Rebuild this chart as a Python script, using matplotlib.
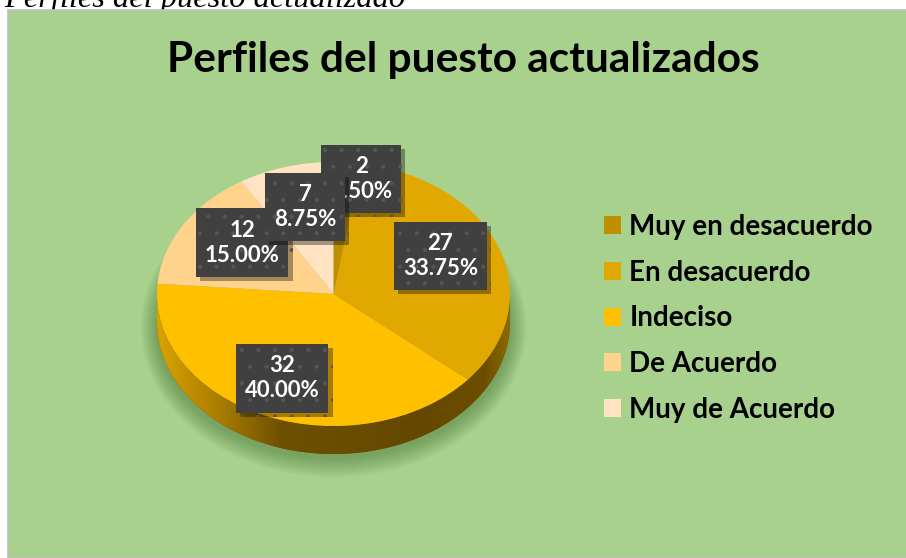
import numpy as np
import matplotlib.pyplot as plt
import matplotlib.patheffects as pe
from matplotlib.patches import Rectangle, Ellipse, Polygon
from matplotlib.colors import LinearSegmentedColormap

# Datos del gráfico
categorias = ['Muy en desacuerdo', 'En desacuerdo', 'Indeciso', 'De Acuerdo', 'Muy de Acuerdo']
frecuencias = [2, 27, 32, 12, 7]
porcentajes = ['2.50%', '33.75%', '40.00%', '15.00%', '8.75%']
colores = ['#BF8F00', '#E0A800', '#FFC000', '#FFD38C', '#FFE3C2']
titulo = 'Perfiles del puesto actualizados'
leyenda_sup = 'Perfiles del puesto actualizado'

plt.rcParams['font.family'] = ['Lato', 'DejaVu Sans']

W, H = 906, 558
fig = plt.figure(figsize=(W / 100, H / 100), dpi=100)
fig.patch.set_facecolor('white')

# texto cortado arriba a la izquierda
fig.text(4 / W, 1 - 7 / H, leyenda_sup, fontsize=23.4, style='italic',
         family='Liberation Serif', ha='left', va='baseline', zorder=0.5)

# fondo verde del gráfico
fig.patches.append(Rectangle((8 / W, 0), 1, 1 - 10 / H, transform=fig.transFigure,
                             facecolor='#A9D18E', edgecolor='#BFBFBF', lw=1.2, zorder=1))

# geometría del pastel (en píxeles)
cx, cy, a, b = 333.5, 294, 176.5, 132
prof = 28 / b

ax = fig.add_axes([0, 0, 1, 1], zorder=2)
ax.axis('off')

# sombra suave bajo el pastel
for k in range(10):
    ax.add_patch(Ellipse((0, -prof - 0.04), 2.02 + 0.018 * k, 2.0 + 0.03 * k,
                         facecolor='#3E6B2A', edgecolor='none', alpha=0.05, zorder=1))

# lateral del pastel con degradado
t = np.linspace(np.pi, 2 * np.pi, 300)
lado = np.concatenate([np.c_[np.cos(t), np.sin(t) - prof],
                       np.c_[np.cos(t[::-1]), np.sin(t[::-1])]])
poly = Polygon(lado, closed=True, facecolor='#6A4C00', edgecolor='none', zorder=2)
ax.add_patch(poly)
cmap = LinearSegmentedColormap.from_list('lado', [
    (0.0, '#D9A300'), (0.18, '#A87C00'), (0.35, '#6E5000'),
    (0.75, '#654800'), (0.93, '#6C4E00'), (1.0, '#8C6A00')])
grad = np.linspace(0, 1, 512)[None, :]
im = ax.imshow(grad, cmap=cmap, extent=(-1, 1, -1 - prof, 0.02), aspect='auto',
               zorder=2.5, interpolation='bicubic')
im.set_clip_path(poly)

# cara superior
wedges, _ = ax.pie(frecuencias, colors=colores, startangle=90, counterclock=False,
                   radius=1, center=(0, 0), wedgeprops=dict(linewidth=0))
for w in wedges:
    w.set_zorder(3)

ax.set_aspect('auto')
ax.set_xlim(-cx / a, (W - cx) / a)
ax.set_ylim((cy - H) / b, cy / b)

# etiquetas de datos
plt.rcParams['hatch.linewidth'] = 0.6
desp = [(18, -23), (-9, -6), (-4, -1), (14, -3), (5, 2)]
zlab = [5, 6, 6, 6, 7]
for w, n, p, (dx, dy), z in zip(wedges, frecuencias, porcentajes, desp, zlab):
    ang = np.deg2rad((w.theta1 + w.theta2) / 2)
    x = 0.7 * np.cos(ang) + dx / a
    y = 0.7 * np.sin(ang) - dy / b
    et = ax.text(x, y, f'{n}\n{p}', ha='center', va='center', fontsize=16,
                 weight='bold', color='white', linespacing=1.25, zorder=z,
                 bbox=dict(boxstyle='square,pad=0.4', fc='#404040', ec='#555555',
                           lw=0, hatch='.', mutation_aspect=1.25))
    et.get_bbox_patch().set_path_effects([
        pe.withSimplePatchShadow(offset=(3, -3), shadow_rgbFace='black', alpha=0.35)])

# título
fig.text(463 / W, 1 - 60 / H, titulo, ha='center', va='center', fontsize=30.5,
         weight='bold', color='black', zorder=3)

# leyenda
ax.legend(wedges, categorias, loc='upper left', bbox_to_anchor=(604 / W, 1 - 214 / H),
          bbox_transform=fig.transFigure, frameon=False,
          prop=dict(weight='bold', size=20), handlelength=0.61, handleheight=0.61,
          handletextpad=0.3, labelspacing=0.71, borderaxespad=0, borderpad=0)

fig.savefig('out.png', dpi=100)
